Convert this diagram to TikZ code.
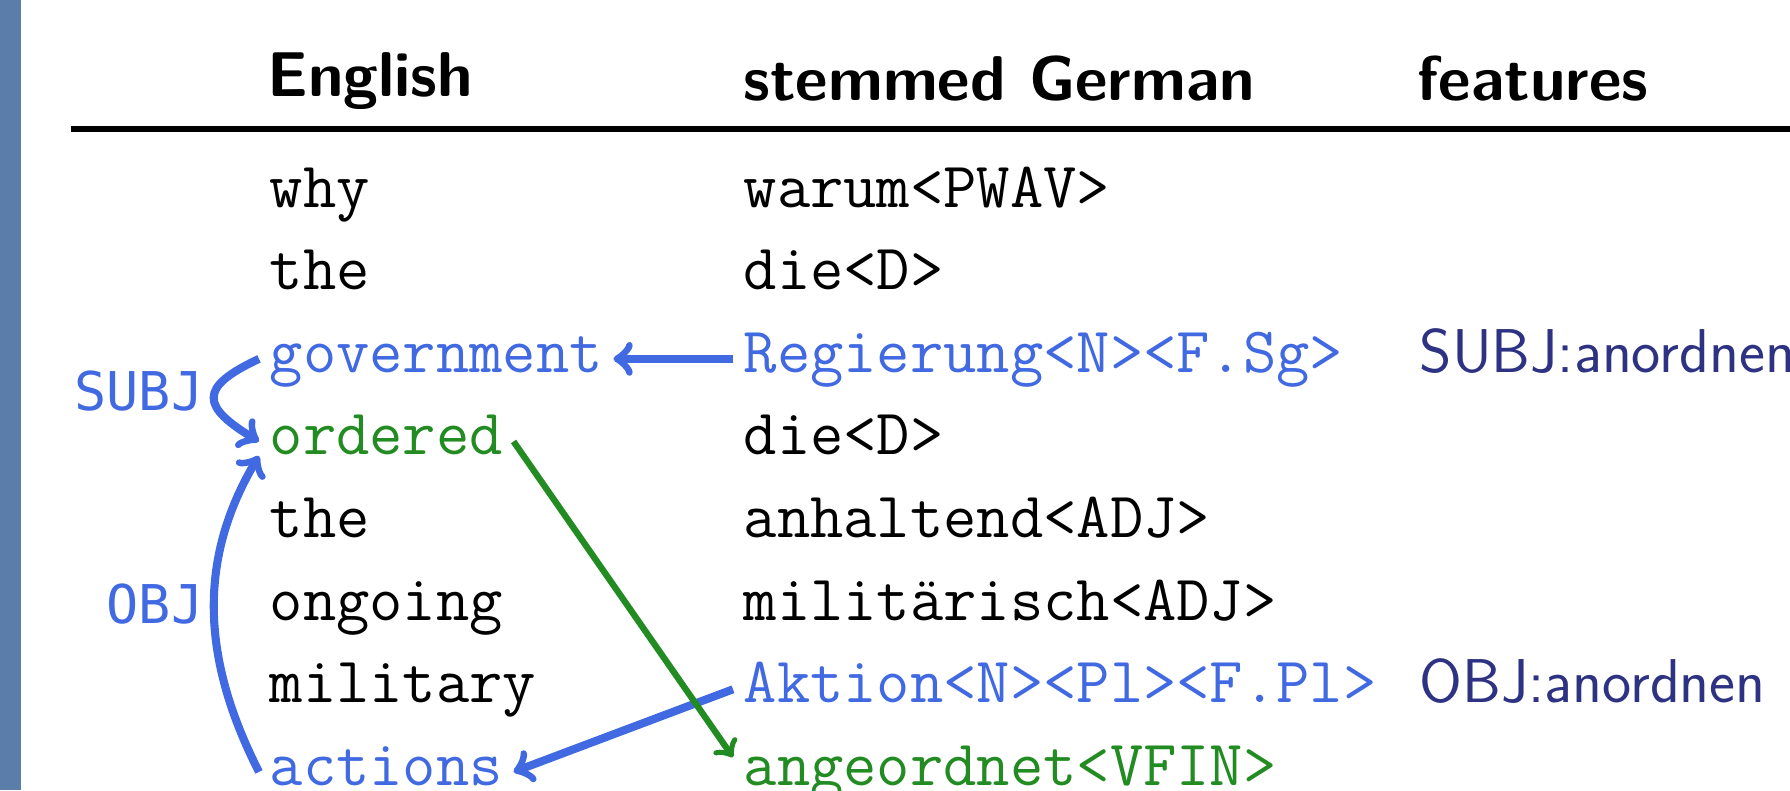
\documentclass[tikz,border=0pt]{standalone}
\usepackage{fontspec}
\newfontfamily\relmono{DejaVu Sans Mono}
\usepackage{xcolor}
\definecolor{barblue}{RGB}{90,125,170}
\definecolor{subjblue}{RGB}{65,105,225}
\definecolor{verbgreen}{RGB}{34,139,34}
\definecolor{featnavy}{RGB}{45,50,130}
\tikzset{
  word/.style={anchor=base west, inner xsep=0.1cm, inner ysep=0pt, font=\fontsize{18.4}{22}\selectfont\ttfamily},
  head/.style={anchor=base west, inner sep=0pt, font=\fontsize{18}{22}\selectfont\sffamily\bfseries},
  feat/.style={anchor=base west, inner sep=0pt, font=\sffamily, text=featnavy},
  rel/.style={anchor=base east, inner sep=0pt, font=\fontsize{15.2}{18}\selectfont\relmono, text=subjblue},
  deparrow/.style={->, line width=2.3pt, subjblue},
  alignarrow/.style={->, line width=1.8pt, verbgreen}
}
\begin{document}
\fontsize{17.6}{21}\selectfont
\begin{tikzpicture}
    \useasboundingbox (0,0) rectangle (17.9,-7.9);
    \fill[barblue] (0,0) rectangle (0.21,-7.9);
    % table head
    \node[head] (hEn) at (2.67,-0.96) {English};
    \node[head] (hDe) at (7.43,-1.00) {stemmed German};
    \node[head] (hFeat) at (14.17,-1.00) {features};
    \draw[line width=1.8pt] (0.71,-1.29) -- (17.9,-1.29);
    % English words
    \node[word] (why) at (2.59,-2.07) {why};
    \node[word] (the) at (2.59,-2.896) {the};
    \node[word,text=subjblue] (gov) at (2.59,-3.722) {government};
    \node[word,text=verbgreen] (ordered) at (2.59,-4.548) {ordered};
    \node[word] (theB) at (2.59,-5.374) {the};
    \node[word] (ongoing) at (2.59,-6.2) {ongoing};
    \node[word] (military) at (2.59,-7.026) {military};
    \node[word,text=subjblue] (actions) at (2.59,-7.852) {actions};
    % stemmed German words
    \node[word] (warum) at (7.33,-2.07) {warum<PWAV>};
    \node[word] (die) at (7.33,-2.896) {die<D>};
    \node[word,text=subjblue] (Regierung) at (7.33,-3.722) {Regierung<N><F.Sg>};
    \node[word] (dieB) at (7.33,-4.548) {die<D>};
    \node[word] (anhaltend) at (7.33,-5.374) {anhaltend<ADJ>};
    \node[word] (militaer) at (7.33,-6.2) {militärisch<ADJ>};
    \node[word,text=subjblue] (Aktion) at (7.33,-7.026) {Aktion<N><Pl><F.Pl>};
    \node[word,text=verbgreen] (angeordnet) at (7.33,-7.852) {angeordnet<VFIN>};
    % features
    \node[feat] (fSubj) at (14.19,-3.722) {SUBJ:anordnen};
    \node[feat] (fObj) at (14.19,-7.026) {OBJ:anordnen};
    % arrows
    \draw[deparrow] (Regierung.mid west) -- (gov.mid east);
    \draw[deparrow] (Aktion.mid west) -- (actions.mid east);
    \draw[alignarrow] (ordered.mid east) -- ([yshift=0.28cm]angeordnet.base west);
    \draw[deparrow] (gov.mid west) to[out=205,in=149,looseness=2.1] (ordered.mid west);
    \draw[deparrow] (actions.mid west) to[out=117,in=239] (ordered.south west);
    \node[rel] (lSubj) at (2.04,-4.10) {SUBJ};
    \node[rel] (lObj) at (2.04,-6.23) {OBJ};
\end{tikzpicture}
\end{document}
